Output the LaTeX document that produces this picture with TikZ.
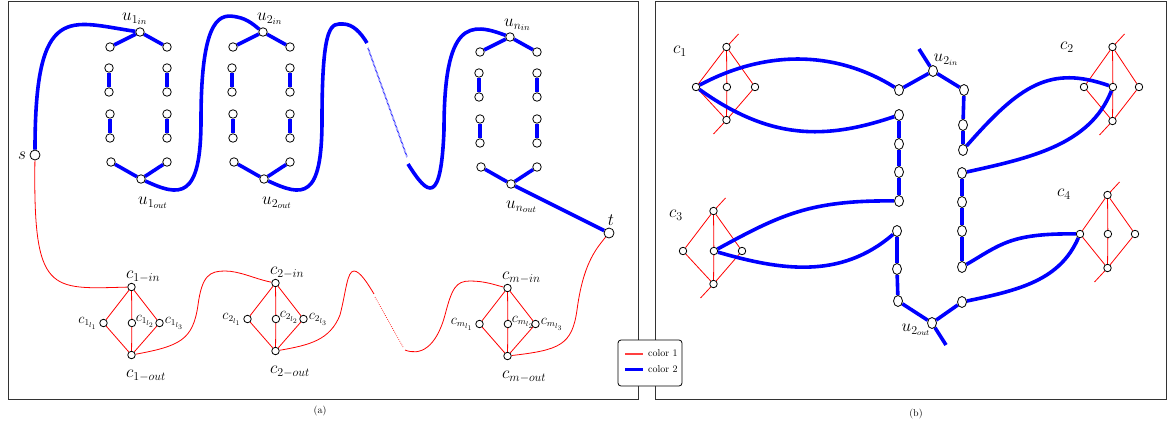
\documentclass[tikz,border=0pt]{standalone}
\usetikzlibrary{shapes.geometric,backgrounds}
\tikzset{
 vtx/.style={circle,draw=black,fill=white,line width=0.8pt,inner sep=0pt,minimum size=8.5pt},
 bigvtx/.style={vtx,minimum size=10pt},
 cvtx/.style={vtx,minimum size=7.5pt},
 evtx/.style={ellipse,draw=black,fill=white,line width=0.8pt,inner sep=0pt,minimum width=9pt,minimum height=11pt},
 bedge/.style={blue,line width=3.6pt},
 redge/.style={red,line width=0.8pt},
 bdot/.style={blue,line width=1.6pt,dash pattern=on 0.5pt off 0.8pt},
 rdot/.style={red,line width=0.7pt,dash pattern=on 0.7pt off 1.4pt},
 lbl/.style={font=\fontsize{18}{21}\selectfont,inner sep=0pt},
 rlbl/.style={font=\fontsize{17}{20}\selectfont,inner sep=0pt},
 slbl/.style={font=\fontsize{13.5}{16}\selectfont,inner sep=0pt},
 framebox/.style={draw=black!80,line width=0.9pt},
}
\newcommand\UGroup[3]{%
 \node[vtx] (#1in) at (#2,#3) {};
 \node[vtx] (#1a1) at (#2-30,#3+15) {};
 \node[vtx] (#1a2) at (#2-31,#3+36) {};
 \node[vtx] (#1a3) at (#2-31,#3+60) {};
 \node[vtx] (#1a4) at (#2-30,#3+82) {};
 \node[vtx] (#1a5) at (#2-30,#3+106) {};
 \node[vtx] (#1a6) at (#2-29,#3+130) {};
 \node[vtx] (#1b1) at (#2+27,#3+15) {};
 \node[vtx] (#1b2) at (#2+27,#3+36) {};
 \node[vtx] (#1b3) at (#2+27,#3+60) {};
 \node[vtx] (#1b4) at (#2+27,#3+82) {};
 \node[vtx] (#1b5) at (#2+27,#3+106) {};
 \node[vtx] (#1b6) at (#2+27,#3+130) {};
 \node[vtx] (#1out) at (#2+1,#3+147) {};
 \begin{scope}[on background layer]
  \draw[bedge] (#1a1)--(#1in)--(#1b1);
  \draw[bedge] (#1a2)--(#1a3) (#1a4)--(#1a5) (#1b2)--(#1b3) (#1b4)--(#1b5);
  \draw[bedge] (#1a6)--(#1out)--(#1b6);
 \end{scope}}
\newcommand\CGroup[4]{%
 \node[cvtx] (#1in) at (#2,#3) {};
 \node[cvtx] (#1l1) at (#2-28,#3+36) {};
 \node[cvtx] (#1l2) at (#2+0.4,#3+36) {};
 \node[cvtx] (#1l3) at (#2+28,#3+36) {};
 \node[cvtx] (#1out) at (#2,#3+68) {};
 \begin{scope}[on background layer]
  \draw[redge] (#1in)--(#1l1)--(#1out);
  \draw[redge] (#1in)--(#1l2);
  \draw[redge] (#1l2)--(#1out);
  \draw[redge] (#1in)--(#1l3)--(#1out);
 \end{scope}
 \node[lbl,anchor=west] (#1inL) at (#2-5.5,#3-10) {$c_{#4-in}$};
 \node[lbl,anchor=west] (#1outL) at (#2-5.5,#3+89) {$c_{#4-out}$};
 \node[slbl,anchor=east] (#1l1L) at ([xshift=-2pt]#1l1.west) {$c_{#4_{l_1}}$};
 \node[slbl,anchor=west] (#1l2L) at ([xshift=-0.5pt,yshift=1.5pt]#1l2.east) {$c_{#4_{l_2}}$};
 \node[slbl,anchor=west] (#1l3L) at ([xshift=1pt]#1l3.east) {$c_{#4_{l_3}}$};}
\newcommand\DGroup[7]{%
 \node[cvtx] (#1t) at (#2,#3) {};
 \node[cvtx] (#1l) at (#4,#6) {};
 \node[cvtx] (#1c) at (#2+0.4,#6) {};
 \node[cvtx] (#1r) at (#5,#6) {};
 \node[cvtx] (#1b) at (#2,#7) {};
 \coordinate (#1te) at (#2+12,#3-13);
 \coordinate (#1be) at (#2-13,#7+14);
 \begin{scope}[on background layer]
  \draw[redge] (#1te)--(#1t)--(#1l)--(#1b)--(#1be);
  \draw[redge] (#1t)--(#1r)--(#1b);
  \draw[redge] (#1t)--(#1c);
  \draw[redge] (#1c)--(#1b);
 \end{scope}}
\begin{document}
\begin{tikzpicture}[x=1pt,y=-1pt]
\useasboundingbox (0,0) rectangle (1168,426);
\begin{scope}[on background layer]
 \draw[framebox] (8,1) rectangle (638,399);
 \draw[framebox] (655,1) rectangle (1166,399);
\end{scope}
% ---------------- panel (a) ----------------
\node[bigvtx] (s) at (35,155) {};
\node[bigvtx] (t) at (609,233) {};
\node[lbl] (sL) at (22,156) {$s$};
\node[lbl] (tL) at (611,220) {$t$};
\UGroup{uA}{140}{32}
\UGroup{uB}{263}{32}
\UGroup{uN}{510}{37}
\node[lbl,anchor=west] (uAinL) at (122,19) {$u_{1_{in}}$};
\node[lbl,anchor=west] (uBinL) at (257,19) {$u_{2_{in}}$};
\node[lbl,anchor=west] (uNinL) at (504,25) {$u_{n_{in}}$};
\node[lbl,anchor=west] (uAoutL) at (138,203) {$u_{1_{out}}$};
\node[lbl,anchor=west] (uBoutL) at (262,203) {$u_{2_{out}}$};
\node[lbl,anchor=west] (uNoutL) at (506,207) {$u_{n_{out}}$};
\CGroup{cA}{131.5}{287}{1}
\CGroup{cB}{275.5}{283}{2}
\CGroup{cM}{507.5}{288}{m}
\coordinate (bq1) at (367,43);
\coordinate (bq2) at (368,48);
\coordinate (bq3) at (407,157);
\coordinate (bq4) at (408,164);
\coordinate (rq1) at (374,294);
\coordinate (rq2) at (375,297);
\coordinate (rq3) at (403,347);
\coordinate (rq4) at (405,350);
\begin{scope}[on background layer]
 \draw[bedge] (s) .. controls (35,0) and (70,22) .. (uAin);
 \draw[bedge] (uAout) .. controls (180,197) and (201,200) .. (201,120)
   .. controls (201,12) and (222,14) .. (237,17) .. controls (248,19) and (255,26) .. (uBin);
 \draw[bedge] (uBout) .. controls (303,197) and (322,200) .. (322,120)
   .. controls (322,20) and (332,24) .. (343,24) .. controls (353,24) and (361,33) .. (bq1);
 \draw[bdot] (bq2) -- (bq3);
 \draw[bedge] (bq4) .. controls (428,196) and (441,206) .. (444,130)
   .. controls (444,20) and (470,22) .. (uNin);
 \draw[bedge] (uNout) -- (t);
 \draw[redge] (s) .. controls (33,295) and (50,289) .. (cAin);
 \draw[redge] (cAout) .. controls (180,346) and (193,340) .. (198,305)
   .. controls (202,275) and (210,271) .. (225,271) .. controls (240,271) and (255,279) .. (cBin);
 \draw[redge] (cBout) .. controls (310,345) and (330,340) .. (340,315)
   .. controls (346,292) and (347,271) .. (354,271) .. controls (360,271) and (368,284) .. (rq1);
 \draw[rdot] (rq2) -- (rq3);
 \draw[redge] (rq4) .. controls (420,356) and (436,348) .. (445,315)
   .. controls (452,288) and (456,281) .. (470,281) .. controls (485,281) and (495,285) .. (cMin);
 \draw[redge] (cMout) .. controls (560,350) and (572,345) .. (577,310)
   .. controls (583,265) and (595,250) .. (t);
\end{scope}
\node[font=\fontsize{10}{12}\selectfont] (capA) at (320,411) {(a)};
% ---------------- panel (b) ----------------
\DGroup{dA}{726.5}{47}{696}{755}{87}{120}
\DGroup{dB}{1112.5}{47}{1084}{1139}{87}{121}
\DGroup{dC}{713.5}{211}{683}{742}{251}{284}
\DGroup{dD}{1107.5}{195}{1080}{1135}{234}{268}
\node[rlbl] (dAL) at (680,51) {$c_1$};
\node[rlbl] (dBL) at (1067,47) {$c_2$};
\node[rlbl] (dCL) at (676,215) {$c_3$};
\node[rlbl] (dDL) at (1064,194) {$c_4$};
\node[evtx] (Rin) at (933,71) {};
\node[evtx] (RA1) at (899,90) {};
\node[evtx] (RA2) at (899,115) {};
\node[evtx] (RA3) at (899,144) {};
\node[evtx] (RA4) at (899,172) {};
\node[evtx] (RA5) at (899,201) {};
\node[evtx] (RA6) at (897,231) {};
\node[evtx] (RA7) at (897,269) {};
\node[evtx] (RA8) at (898,301) {};
\node[evtx] (RB1) at (964,90) {};
\node[evtx] (RB2) at (963,125) {};
\node[evtx] (RB3) at (963,150) {};
\node[evtx] (RB4) at (962,173) {};
\node[evtx] (RB5) at (962,202) {};
\node[evtx] (RB6) at (962,231) {};
\node[evtx] (RB7) at (962,267) {};
\node[evtx] (RB8) at (962,302) {};
\node[evtx] (Rout) at (932,323) {};
\coordinate (Rinx) at (919,49);
\coordinate (Routx) at (946,345);
\node[rlbl] (RinL) at (946,60) {$u_{2_{in}}$};
\node[rlbl] (RoutL) at (916,330) {$u_{2_{out}}$};
\begin{scope}[on background layer]
 \draw[bedge] (Rinx) -- (Rin);
 \draw[bedge] (RA1) -- (Rin) -- (RB1) -- (RB2) -- (RB3);
 \draw[bedge] (RB4) -- (RB5) -- (RB6) -- (RB7);
 \draw[bedge] (RA2) -- (RA3) -- (RA4) -- (RA5);
 \draw[bedge] (RA6) -- (RA7) -- (RA8) -- (Rout) -- (RB8);
 \draw[bedge] (Rout) -- (Routx);
 \draw[bedge] (dAl) .. controls (765,50) and (835,50) .. (RA1);
 \draw[bedge] (dAl) .. controls (770,140) and (825,140) .. (RA2);
 \draw[bedge] (RB3) .. controls (1020,85) and (1050,65) .. (dBc);
 \draw[bedge] (RB4) .. controls (1030,158) and (1090,145) .. (dBc);
 \draw[bedge] (dCc) .. controls (780,215) and (810,200) .. (RA5);
 \draw[bedge] (dCc) .. controls (780,270) and (840,280) .. (RA6);
 \draw[bedge] (RB7) .. controls (1000,245) and (1010,233) .. (dDl);
 \draw[bedge] (RB8) .. controls (1020,290) and (1060,280) .. (dDl);
\end{scope}
\node[font=\fontsize{10}{12}\selectfont] (capB) at (916,414) {(b)};
% ---------------- legend ----------------
\node[draw=black,line width=0.8pt,rounded corners=3pt,fill=white,minimum width=64pt,minimum height=46pt,inner sep=0pt] (leg) at (650,363) {};
\coordinate (lga) at (625,354);
\coordinate (lgb) at (643,354);
\coordinate (lgc) at (625,369);
\coordinate (lgd) at (643,369);
\draw[red!75,line width=1.5pt] (lga) -- (lgb);
\draw[blue,line width=3pt] (lgc) -- (lgd);
\node[anchor=west,font=\fontsize{10}{12}\selectfont,inner sep=0pt] (lg1) at (648,353) {color 1};
\node[anchor=west,font=\fontsize{10}{12}\selectfont,inner sep=0pt] (lg2) at (648,369) {color 2};
\end{tikzpicture}
\end{document}
